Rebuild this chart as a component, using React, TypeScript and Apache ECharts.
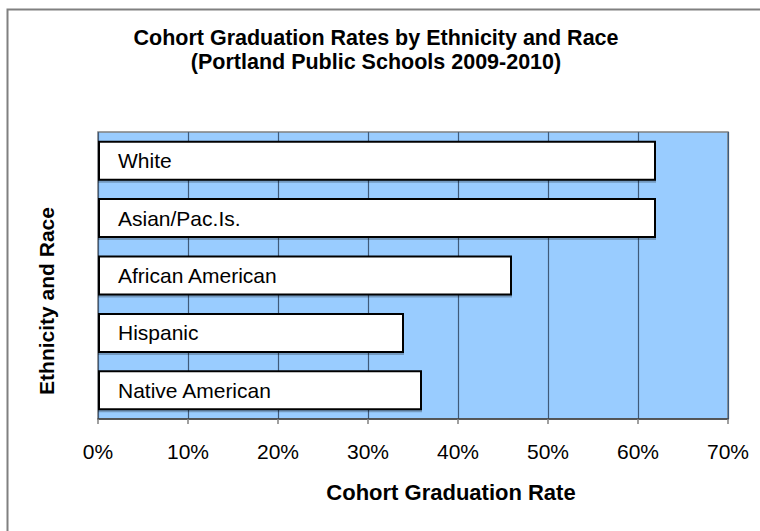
import React, { useEffect, useRef } from "react";
import * as echarts from "echarts";

const categories = ["White", "Asian/Pac.Is.", "African American", "Hispanic", "Native American"];
const rates = [0.62, 0.62, 0.46, 0.34, 0.36];
const titleLines = ["Cohort Graduation Rates by Ethnicity and Race", "(Portland Public Schools 2009-2010)"];
const xName = "Cohort Graduation Rate";
const yName = "Ethnicity and Race";

const FONT = "'Liberation Sans', Arial, sans-serif";

export default function App() {
  const ref = useRef<HTMLDivElement>(null);
  useEffect(() => {
    if (!ref.current) return;
    const chart = echarts.init(ref.current, undefined, { renderer: "svg" });
    chart.setOption({
      animation: false,
      backgroundColor: "#ffffff",
      textStyle: { fontFamily: FONT },
      grid: {
        left: 98,
        right: 32,
        top: 132,
        bottom: 112,
        show: true,
        backgroundColor: "#99CCFF",
        borderColor: "#808080",
        borderWidth: 1.5,
      },
      xAxis: {
        type: "value",
        min: 0,
        max: 0.7,
        interval: 0.1,
        axisLabel: {
          formatter: (v: number) => Math.round(v * 100) + "%",
          fontFamily: FONT,
          fontSize: 21,
          color: "#000",
          margin: 22,
        },
        axisTick: { show: true, length: 5, lineStyle: { color: "#808080", width: 1.5 } },
        axisLine: { show: true, lineStyle: { color: "#404040", width: 1.5 } },
        splitLine: { show: true, lineStyle: { color: "#3f5a7a", width: 1.2 } },
      },
      yAxis: {
        type: "category",
        inverse: true,
        data: categories,
        axisLabel: { show: false },
        axisTick: { show: false },
        axisLine: { show: false },
        splitLine: { show: false },
      },
      series: [
        {
          type: "bar",
          data: rates,
          barWidth: 40,
          itemStyle: {
            color: "#ffffff",
            borderColor: "#000000",
            borderWidth: 2,
            shadowColor: "rgba(0,0,0,0.25)",
            shadowOffsetY: 2,
            shadowBlur: 0,
          },
          label: {
            show: true,
            position: "insideLeft",
            distance: 20,
            formatter: "{b}",
            fontFamily: FONT,
            fontSize: 21,
            color: "#000",
          },
        },
      ],
      graphic: [
        {
          type: "rect",
          shape: { x: 7.5, y: 9.5, width: 800, height: 600 },
          style: { fill: "none", stroke: "#808080", lineWidth: 2 },
          silent: true,
        },
        {
          type: "text",
          x: 376,
          y: 38,
          style: {
            text: titleLines[0],
            font: `bold 21.5px ${FONT}`,
            fill: "#000",
            textAlign: "center",
            textVerticalAlign: "middle",
          },
        },
        {
          type: "text",
          x: 376,
          y: 62,
          style: {
            text: titleLines[1],
            font: `bold 21.5px ${FONT}`,
            fill: "#000",
            textAlign: "center",
            textVerticalAlign: "middle",
          },
        },
        {
          type: "text",
          x: 451,
          y: 492,
          style: {
            text: xName,
            font: `bold 22px ${FONT}`,
            fill: "#000",
            textAlign: "center",
            textVerticalAlign: "middle",
          },
        },
        {
          type: "text",
          x: 46,
          y: 301,
          rotation: Math.PI / 2,
          style: {
            text: yName,
            font: `bold 21px ${FONT}`,
            fill: "#000",
            textAlign: "center",
            textVerticalAlign: "middle",
          },
        },
      ],
    });
    return () => chart.dispose();
  }, []);
  return (
    <div
      ref={ref}
      style={{ position: "absolute", left: 0, top: 0, width: 760, height: 531 }}
    />
  );
}
